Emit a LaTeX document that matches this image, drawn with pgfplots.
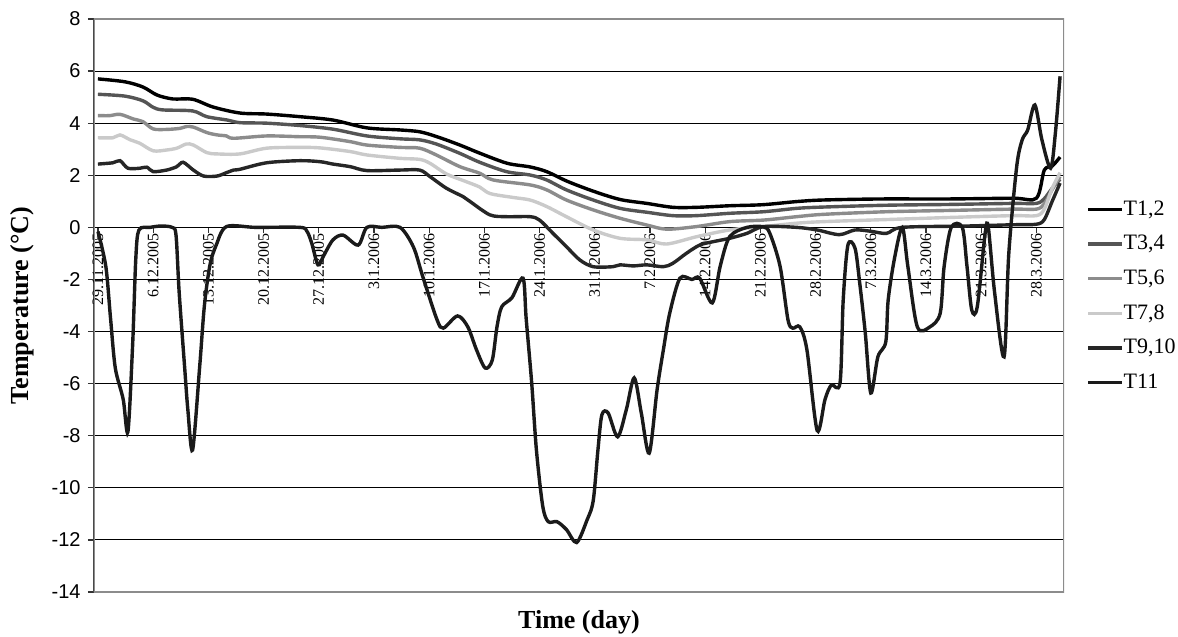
\documentclass[border=0pt]{standalone}
\usepackage{fontspec}
\setmainfont{Liberation Serif}
\newfontfamily\arial{Liberation Sans}
\usepackage{pgfplots}
\pgfplotsset{compat=1.18}

\definecolor{cA}{HTML}{000000}
\definecolor{cB}{HTML}{555555}
\definecolor{cC}{HTML}{8C8C8C}
\definecolor{cD}{HTML}{CACACA}
\definecolor{cE}{HTML}{262626}
\definecolor{cF}{HTML}{1A1A1A}

\begin{document}
\begin{tikzpicture}
\useasboundingbox (-47pt,-22.5pt) rectangle (542pt,296pt);
\begin{axis}[
  at={(0,0)}, anchor=south west,
  scale only axis, width=485pt, height=286.5pt,
  xmin=-0.5, xmax=122.5, ymin=-14, ymax=8,
  axis x line=middle, axis y line=left,
  x axis line style={-, black, line width=0.7pt},
  y axis line style={-, black!75, line width=0.75pt},
  ytick={-14,-12,...,8},
  yticklabels={-14,-12,-10,-8,-6,-4,-2,0,2,4,6,8},
  xtick={0,7,...,119},
  xticklabels={29.11.2005,6.12.2005,13.12.2005,20.12.2005,27.12.2005,3.1.2006,10.1.2006,17.1.2006,24.1.2006,31.1.2006,7.2.2006,14.2.2006,21.2.2006,28.2.2006,7.3.2006,14.3.2006,21.3.2006,28.3.2006},
  tick align=outside, major tick length=3pt,
  tick style={black!80, line width=0.6pt},
  ymajorgrids, major grid style={black, line width=0.5pt},
  yticklabel style={font=\arial\fontsize{10}{12}\selectfont, inner sep=0pt, xshift=-3.5pt},
  xticklabel style={font=\fontsize{8}{9}\selectfont, rotate=90, anchor=east, inner sep=0pt},
  xlabel={Time (day)},
  xlabel style={font=\bfseries\fontsize{13}{15}\selectfont, at={(axis description cs:0.5,-0.0524)}, anchor=center},
  ylabel={Temperature (°C)},
  ylabel style={font=\bfseries\fontsize{13}{15}\selectfont, at={(axis description cs:-0.0737,0.5)}, anchor=center},
  legend style={at={(1.0226,0.6986)}, anchor=north west, draw=none, fill=none, inner sep=0pt, row sep=0pt,
    font=\fontsize{11}{13}\selectfont, nodes={inner sep=0pt, minimum height=17.3pt}, cells={anchor=west},
    /tikz/every even column/.style={column sep=0pt}},
  legend image code/.code={\draw[#1] (0pt,0pt) -- (17pt,0pt);},
  every axis plot/.append style={line width=1.7pt, smooth},
]
\draw[black!45, line width=0.7pt] (rel axis cs:0,0) rectangle (rel axis cs:1,1);

% T1,2
\addplot[cA] coordinates {
(0,5.70)(3.4,5.59)(5.7,5.39)(7.5,5.08)(9.5,4.93)(12,4.92)(14.6,4.62)(18,4.39)(21.4,4.35)(25.6,4.25)(29.8,4.12)(34.1,3.82)(38.3,3.74)(40.8,3.67)(43,3.48)(45.9,3.16)(48.4,2.85)(51.9,2.46)(54.8,2.32)(56.9,2.14)(59.5,1.77)(62.8,1.39)(66.2,1.07)(69.6,0.92)(72.9,0.77)(76,0.77)(80.1,0.83)(84.3,0.87)(88.6,0.99)(91.9,1.05)(99.2,1.09)(107.7,1.09)(116,1.12)(119,1.12)(120,2.2)(121,2.35)(122,2.7)};
\addlegendentry{T1,2}

% T3,4
\addplot[cB] coordinates {
(0,5.11)(3.4,5.04)(5.7,4.86)(7,4.61)(8.2,4.51)(12,4.47)(13.8,4.25)(16.4,4.12)(18,4.02)(21.4,4.0)(25.6,3.91)(29.8,3.77)(34.1,3.51)(38.3,3.40)(40.8,3.36)(42.9,3.20)(45.9,2.84)(48.4,2.50)(51.8,2.14)(54.8,2.01)(56.9,1.82)(59.4,1.44)(62.8,1.05)(66.2,0.73)(69.6,0.58)(72.9,0.45)(75.9,0.45)(80.1,0.54)(84.4,0.60)(88.6,0.73)(92,0.78)(100,0.85)(108,0.88)(116,0.92)(119,0.92)(120,1.1)(121,1.5)(122,1.85)};
\addlegendentry{T3,4}

% T5,6
\addplot[cC] coordinates {
(0,4.29)(1.5,4.29)(2.8,4.34)(4.5,4.16)(5.7,4.06)(7,3.78)(8.7,3.76)(10.4,3.80)(11.2,3.87)(12.1,3.85)(13.8,3.64)(15.1,3.55)(16.3,3.51)(17.2,3.42)(21.4,3.51)(25.6,3.48)(28.2,3.46)(32,3.29)(34.1,3.16)(38.3,3.07)(40.8,3.04)(42.9,2.78)(45.9,2.33)(48.4,2.08)(50.1,1.82)(54.8,1.63)(56.9,1.44)(59.4,1.05)(62.8,0.67)(66.2,0.35)(69.6,0.09)(72.1,-0.07)(75.9,0.03)(80.1,0.22)(84.4,0.28)(88.6,0.41)(92,0.5)(100,0.6)(108,0.65)(116,0.7)(119,0.7)(120,0.9)(121,1.45)(122,1.95)};
\addlegendentry{T5,6}

% T7,8
\addplot[cD] coordinates {
(0,3.44)(1.9,3.44)(2.8,3.55)(4.1,3.36)(5.3,3.23)(7,2.94)(8.7,2.97)(10,3.04)(11.2,3.20)(12.1,3.16)(13.8,2.87)(15.1,2.82)(18,2.82)(21.4,3.04)(25.6,3.07)(28.2,3.05)(32,2.91)(34.1,2.78)(38.3,2.65)(40.8,2.61)(42.1,2.46)(44.2,2.05)(46.3,1.8)(48.4,1.55)(49.7,1.3)(52.6,1.15)(54.8,1.05)(56.9,0.80)(59.4,0.41)(62.8,-0.10)(66.2,-0.42)(69.6,-0.48)(72.1,-0.64)(75.9,-0.36)(80.1,-0.10)(84.4,0.03)(88.6,0.16)(92,0.22)(100,0.3)(108,0.38)(116,0.45)(119,0.45)(120,0.7)(121,1.5)(122,2.1)};
\addlegendentry{T7,8}

% T9,10
\addplot[cE] coordinates {
(0,2.43)(1.9,2.48)(2.8,2.56)(3.8,2.27)(5.3,2.27)(6.2,2.31)(7,2.14)(8.7,2.20)(10,2.33)(10.8,2.50)(12.1,2.20)(13.4,1.97)(15.1,1.97)(16.3,2.10)(17.2,2.20)(18,2.23)(21.4,2.48)(25.6,2.56)(28.2,2.52)(29.8,2.43)(32,2.33)(34.1,2.18)(38.3,2.20)(40.8,2.20)(42.1,1.95)(44.2,1.50)(46.3,1.18)(47.2,0.99)(49.7,0.48)(51.8,0.41)(54.8,0.41)(56,0.28)(57.7,-0.23)(59.4,-0.74)(61.1,-1.25)(62.8,-1.51)(65.3,-1.51)(66.2,-1.44)(67.9,-1.48)(69.6,-1.44)(71.7,-1.51)(72.9,-1.38)(74.6,-1.0)(76.3,-0.68)(78,-0.55)(80.1,-0.42)(82.3,-0.23)(84.4,0.03)(88.6,0.0)(91.2,-0.1)(94,-0.28)(96,-0.1)(98,-0.15)(100,-0.23)(102,0.0)(110,0.05)(116,0.1)(119,0.12)(120,0.3)(121,1.0)(122,1.7)};
\addlegendentry{T9,10}

% T11
\addplot[cF] coordinates {
(0,-0.16)(1,-1.5)(1.6,-3.5)(2.2,-5.4)(3.2,-6.6)(3.8,-7.85)(4.4,-4.5)(4.8,-1.2)(5.2,-0.1)(6.6,0.0)(8,0.05)(9.4,0.0)(9.9,-0.3)(10.3,-2.5)(11,-5.4)(11.4,-7.0)(12,-8.55)(12.9,-5.35)(13.5,-3.0)(14.2,-1.45)(15,-0.68)(16.3,0.03)(20,0)(25.6,0.0)(26.5,-0.15)(27.1,-0.6)(27.9,-1.44)(28.6,-1.1)(29.8,-0.48)(31.1,-0.3)(33.0,-0.68)(34.1,0.0)(36,0)(38.3,0.0)(40,-0.75)(41.2,-1.9)(43,-3.55)(43.8,-3.87)(45.6,-3.4)(46.9,-3.82)(48,-4.7)(49.1,-5.4)(50,-5.1)(50.6,-3.82)(51.2,-3.05)(52.5,-2.7)(53.9,-1.95)(54.3,-3.5)(55,-5.97)(55.6,-8.55)(56.4,-10.7)(57.1,-11.3)(58.2,-11.3)(59.4,-11.6)(60.7,-12.1)(62,-11.25)(62.8,-10.5)(63.4,-8.55)(63.9,-7.2)(64.7,-7.13)(65.9,-8.04)(67,-7.0)(68,-5.78)(68.9,-7.13)(69.9,-8.67)(70.9,-6.24)(71.7,-4.7)(72.5,-3.3)(73.8,-1.95)(75.3,-2.0)(76.3,-1.95)(77.9,-2.9)(78.9,-1.5)(80.1,-0.36)(82.3,0.0)(84.4,0.02)(85.2,-0.23)(86.5,-1.5)(87.5,-3.55)(88.1,-3.87)(89,-3.82)(89.9,-4.7)(91.2,-7.8)(92.2,-6.6)(93,-6.05)(94.1,-5.97)(94.5,-2.8)(95.1,-0.68)(96,-0.8)(96.6,-2.15)(97.3,-4.05)(98,-6.36)(98.9,-4.97)(99.9,-4.4)(100.2,-2.8)(101,-1.2)(102,0)(102.7,-1.5)(103.9,-3.82)(105.5,-3.82)(106.8,-3.3)(107.3,-1.5)(108.2,0)(109.6,0)(110.2,-1.5)(110.8,-3.17)(111.5,-3.05)(112.5,-0.23)(112.9,0)(113.7,-2.5)(114.9,-4.97)(115.5,-1)(116.5,2.33)(117.2,3.36)(117.9,3.74)(118.8,4.7)(119.7,3.36)(120.8,2.27)(121.4,3.6)(122,5.8)};
\addlegendentry{T11}
\end{axis}
\end{tikzpicture}
\end{document}
